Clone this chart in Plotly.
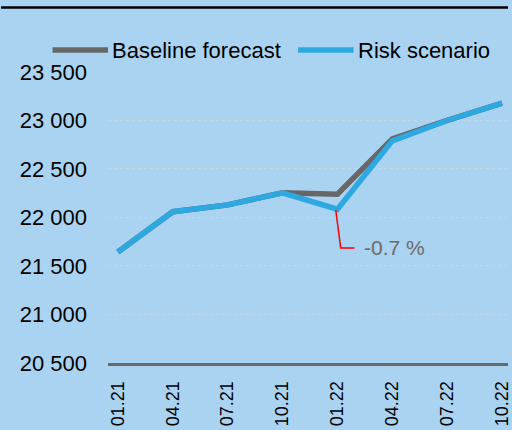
import plotly.graph_objects as go

# Quarterly periods and the two series
periods = ["01.21", "04.21", "07.21", "10.21", "01.22", "04.22", "07.22", "10.22"]
baseline = [21645, 22060, 22130, 22255, 22240, 22810, 23000, 23180]
risk = [21645, 22060, 22130, 22255, 22085, 22790, 23000, 23180]

y_ticks = [20500, 21000, 21500, 22000, 22500, 23000, 23500]
y_tick_text = ["20 500", "21 000", "21 500", "22 000", "22 500", "23 000", "23 500"]

series_names = ["Baseline forecast", "Risk scenario"]
series_colors = ["#676767", "#2DA8E0"]

BG = "#AAD3F1"
FONT = "Liberation Sans, Arial, sans-serif"

W, H = 512, 430
ML, MR, MT, MB = 108, 0, 71, 67
PW, PH = W - ML - MR, H - MT - MB


def px_x(p):
    return (p - ML) / PW


def px_y(p):
    return (H - MB - p) / PH


xs = list(range(len(periods)))

fig = go.Figure()
for name, vals, col in zip(series_names, [baseline, risk], series_colors):
    fig.add_trace(go.Scatter(
        x=xs, y=vals, mode="lines", name=name,
        line=dict(color=col, width=5.5), showlegend=False,
    ))

# Legend drawn as line samples with labels
legend_pos = [(52, 108), (300, 356)]
shapes = [
    # Rule along the top of the figure
    dict(type="line", xref="paper", yref="paper", x0=px_x(0), x1=px_x(W),
         y0=px_y(7.5), y1=px_y(7.5), line=dict(color="black", width=2.5)),
]
annotations = []
for (x0, x1), name, col in zip(legend_pos, series_names, series_colors):
    shapes.append(dict(type="line", xref="paper", yref="paper",
                       x0=px_x(x0), x1=px_x(x1), y0=px_y(50), y1=px_y(50),
                       line=dict(color=col, width=5.5)))
    annotations.append(dict(text=name, xref="paper", yref="paper",
                            x=px_x(x1 + 2), y=px_y(50), xanchor="left",
                            yanchor="middle", showarrow=False,
                            font=dict(size=22, color="black", family=FONT)))

# Deviation of the risk scenario at 01.22
i = periods.index("01.22")
pct = (risk[i] / baseline[i] - 1) * 100
label_y = 21686
shapes.append(dict(type="path", xref="x", yref="y",
                   path=f"M {i - 0.03},{risk[i] - 10} L {i + 0.06},{label_y} L {i + 0.31},{label_y}",
                   line=dict(color="#FF0000", width=1.5)))
annotations.append(dict(text=f"{pct:.1f} %", xref="x", yref="y", x=i + 0.45,
                        y=label_y, xanchor="left", yanchor="middle",
                        showarrow=False,
                        font=dict(size=21, color="#6A6A6A", family=FONT)))

fig.update_layout(
    width=W, height=H,
    margin=dict(l=ML, r=MR, t=MT, b=MB),
    paper_bgcolor=BG, plot_bgcolor=BG,
    font=dict(family=FONT, color="black"),
    shapes=shapes, annotations=annotations,
)
fig.update_xaxes(
    range=[-0.18, 7.108], tickvals=xs, ticktext=periods, tickangle=-90,
    tickfont=dict(size=18), showgrid=False, zeroline=False,
    showline=True, linecolor="#6A6A6A", linewidth=3,
    ticks="", ticklabelstandoff=8, ticklabeloverflow="allow",
)
fig.update_yaxes(
    range=[20500, 23510], tickvals=y_ticks, ticktext=y_tick_text,
    tickfont=dict(size=22), showgrid=True, gridcolor="#BFD7EB",
    griddash="dot", gridwidth=1, zeroline=False, showline=False,
    ticks="", ticklabelstandoff=20,
)

fig.write_html("out.html")
